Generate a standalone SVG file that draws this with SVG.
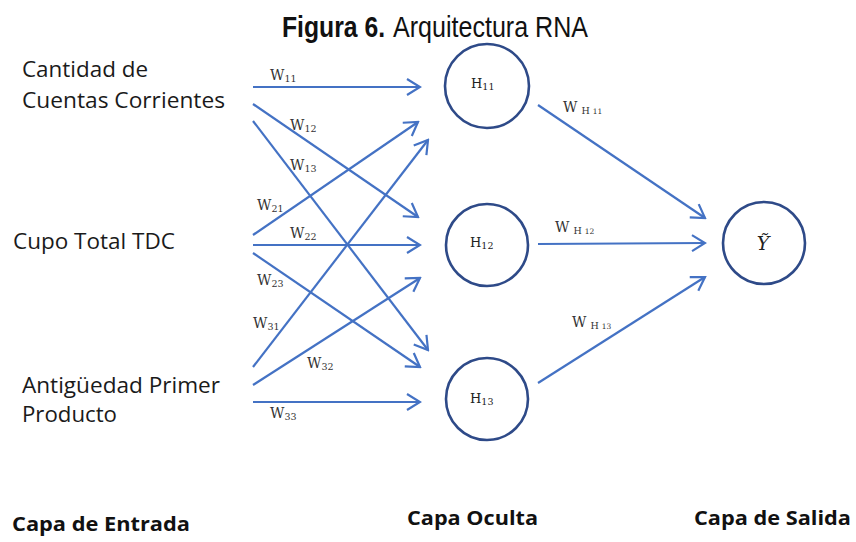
<svg xmlns="http://www.w3.org/2000/svg" width="856" height="542" viewBox="0 0 856 542">
<style>
.title{font-family:"Liberation Sans",Arial,sans-serif;font-size:29px;fill:#111}
.lbl{font-family:"Open Sans","Liberation Sans",sans-serif;font-size:22px;fill:#1a1a1a}
.layer{font-family:"Open Sans","Liberation Sans",sans-serif;font-size:20px;font-weight:bold;fill:#111}
.w{font-family:"DejaVu Serif","Liberation Serif",serif;font-size:14px;fill:#333}
.ws{font-size:9.5px}
.h{font-family:"DejaVu Serif","Liberation Serif",serif;font-size:13px;fill:#222}
.node{fill:none;stroke:#2E4A88;stroke-width:2.6}
.edge{stroke:#4472C4;stroke-width:2.2;fill:none}
</style>
<defs>
<marker id="arr" markerUnits="userSpaceOnUse" viewBox="-1 -10 16 20" refX="13" refY="0" markerWidth="16" markerHeight="20" orient="auto">
<path d="M0,-8 L13,0 L0,8" fill="none" stroke="#4472C4" stroke-width="2.2"/>
</marker>
</defs>
<rect width="856" height="542" fill="#fff"/>
<text class="title" x="282" y="37" font-weight="bold" textLength="103" lengthAdjust="spacingAndGlyphs">Figura 6.</text>
<text class="title" x="393" y="37" textLength="195" lengthAdjust="spacingAndGlyphs">Arquitectura RNA</text>

<g id="input-1"><text class="lbl" x="22" y="77" textLength="126" lengthAdjust="spacingAndGlyphs">Cantidad de</text><text class="lbl" x="22" y="108" textLength="203" lengthAdjust="spacingAndGlyphs">Cuentas Corrientes</text></g>
<g id="input-2"><text class="lbl" x="13" y="249" textLength="162" lengthAdjust="spacingAndGlyphs">Cupo Total TDC</text></g>
<g id="input-3"><text class="lbl" x="22" y="393" textLength="198" lengthAdjust="spacingAndGlyphs">Antigüedad Primer</text><text class="lbl" x="22" y="422" textLength="95" lengthAdjust="spacingAndGlyphs">Producto</text></g>

<g id="connectors">
<line class="edge" x1="253" y1="87" x2="420" y2="87" marker-end="url(#arr)"/>
<line class="edge" x1="253" y1="104" x2="418" y2="217" marker-end="url(#arr)"/>
<line class="edge" x1="253" y1="121" x2="428" y2="350" marker-end="url(#arr)"/>
<line class="edge" x1="253" y1="235" x2="418" y2="122" marker-end="url(#arr)"/>
<line class="edge" x1="253" y1="245" x2="420" y2="245" marker-end="url(#arr)"/>
<line class="edge" x1="253" y1="253" x2="420" y2="367" marker-end="url(#arr)"/>
<line class="edge" x1="253" y1="367" x2="428" y2="140" marker-end="url(#arr)"/>
<line class="edge" x1="253" y1="385" x2="420" y2="278" marker-end="url(#arr)"/>
<line class="edge" x1="253" y1="402" x2="420" y2="402" marker-end="url(#arr)"/>
<line class="edge" x1="538" y1="105" x2="705" y2="218" marker-end="url(#arr)"/>
<line class="edge" x1="538" y1="244" x2="705" y2="243" marker-end="url(#arr)"/>
<line class="edge" x1="538" y1="383" x2="705" y2="277" marker-end="url(#arr)"/>
<text class="w" x="270" y="80">W<tspan class="ws" dy="2">11</tspan></text>
<text class="w" x="290" y="130">W<tspan class="ws" dy="2">12</tspan></text>
<text class="w" x="290" y="170">W<tspan class="ws" dy="2">13</tspan></text>
<text class="w" x="257" y="210">W<tspan class="ws" dy="2">21</tspan></text>
<text class="w" x="290" y="238">W<tspan class="ws" dy="2">22</tspan></text>
<text class="w" x="257" y="285">W<tspan class="ws" dy="2">23</tspan></text>
<text class="w" x="253" y="328">W<tspan class="ws" dy="2">31</tspan></text>
<text class="w" x="307" y="368">W<tspan class="ws" dy="2">32</tspan></text>
<text class="w" x="270" y="418">W<tspan class="ws" dy="2">33</tspan></text>
<text class="w" x="563" y="112">W<tspan font-size="9.5" dx="4" dy="2">H</tspan><tspan font-size="7.5" dx="3">11</tspan></text>
<text class="w" x="555" y="232">W<tspan font-size="9.5" dx="4" dy="2">H</tspan><tspan font-size="7.5" dx="3">12</tspan></text>
<text class="w" x="572" y="327">W<tspan font-size="9.5" dx="4" dy="2">H</tspan><tspan font-size="7.5" dx="3">13</tspan></text>
</g>

<g id="H11"><circle class="node" cx="487" cy="86" r="42"/><text class="h" x="471" y="88">H<tspan class="ws" dy="2">11</tspan></text></g>
<g id="H12"><circle class="node" cx="487" cy="245" r="41"/><text class="h" x="470" y="247">H<tspan class="ws" dy="2">12</tspan></text></g>
<g id="H13"><circle class="node" cx="487" cy="399" r="41"/><text class="h" x="470" y="403">H<tspan class="ws" dy="2">13</tspan></text></g>
<g id="Y"><circle class="node" cx="764" cy="243" r="41"/><text x="763" y="250" text-anchor="middle" font-family="DejaVu Serif,Liberation Serif,serif" font-style="italic" font-size="19" fill="#222">Ỹ</text></g>

<g id="layers">
<text class="layer" x="12" y="531" textLength="178" lengthAdjust="spacingAndGlyphs">Capa de Entrada</text>
<text class="layer" x="407" y="525" textLength="131" lengthAdjust="spacingAndGlyphs">Capa Oculta</text>
<text class="layer" x="694" y="525" textLength="157" lengthAdjust="spacingAndGlyphs">Capa de Salida</text>
</g>
</svg>
